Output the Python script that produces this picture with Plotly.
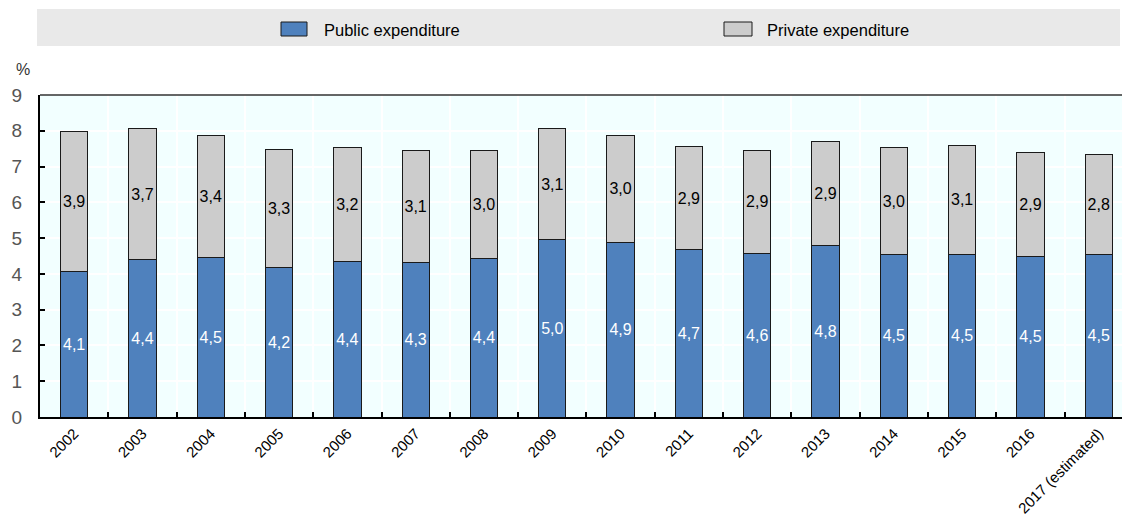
import plotly.graph_objects as go

years = ["2002", "2003", "2004", "2005", "2006", "2007", "2008", "2009",
         "2010", "2011", "2012", "2013", "2014", "2015", "2016", "2017 (estimated)"]
public = [4.08, 4.39, 4.46, 4.19, 4.36, 4.33, 4.43, 4.97,
          4.89, 4.67, 4.58, 4.78, 4.54, 4.54, 4.49, 4.53]
private = [3.89, 3.66, 3.42, 3.30, 3.16, 3.11, 3.01, 3.08,
           2.99, 2.88, 2.88, 2.93, 2.98, 3.06, 2.89, 2.82]
series_names = ["Public expenditure", "Private expenditure"]
y_ticks = [0, 1, 2, 3, 4, 5, 6, 7, 8, 9]

FONT = "Liberation Sans, Arial, sans-serif"
BLUE = "#4F81BD"
GREY = "#CCCCCC"

W, H = 1122, 517
ML, MR, MT, MB = 40, 0, 95, 100
PW, PH = W - ML - MR, H - MT - MB

def px(x):
    return (x - ML) / PW

def py(y):
    return (H - MB - y) / PH

fig = go.Figure()
fig.add_trace(go.Bar(
    x=years, y=public, name=series_names[0],
    marker=dict(color=BLUE, line=dict(color="#1a1a1a", width=1)),
    texttemplate="%{y:.1f}", textposition="inside", insidetextanchor="middle",
    textangle=0, insidetextfont=dict(color="white", size=16, family=FONT),
    showlegend=False, hoverinfo="x+y",
))
fig.add_trace(go.Bar(
    x=years, y=private, name=series_names[1],
    marker=dict(color=GREY, line=dict(color="#1a1a1a", width=1)),
    texttemplate="%{y:.1f}", textposition="inside", insidetextanchor="middle",
    textangle=0, insidetextfont=dict(color="black", size=16, family=FONT),
    showlegend=False, hoverinfo="x+y",
))

shapes = [
    # legend background
    dict(type="rect", xref="paper", yref="paper", x0=px(37), x1=px(1120), y0=py(46), y1=py(9),
         fillcolor="#E9E9E9", line=dict(width=0), layer="below"),
    # legend swatches
    dict(type="rect", xref="paper", yref="paper", x0=px(281), x1=px(307), y0=py(36), y1=py(22),
         fillcolor=BLUE, line=dict(color="#1a1a1a", width=1)),
    dict(type="rect", xref="paper", yref="paper", x0=px(724), x1=px(752), y0=py(36), y1=py(22),
         fillcolor=GREY, line=dict(color="#1a1a1a", width=1)),
    # top border
    dict(type="line", xref="paper", yref="paper", x0=0, x1=1, y0=1, y1=1,
         line=dict(color="#333333", width=1.5)),
]

annotations = [
    dict(text=series_names[0], xref="paper", yref="paper", x=px(322), y=py(30),
         xanchor="left", yanchor="middle", showarrow=False,
         font=dict(family=FONT, size=16.5, color="black")),
    dict(text=series_names[1], xref="paper", yref="paper", x=px(765), y=py(30),
         xanchor="left", yanchor="middle", showarrow=False,
         font=dict(family=FONT, size=16.5, color="black")),
    dict(text="%", xref="paper", yref="paper", x=px(23), y=py(70),
         xanchor="center", yanchor="middle", showarrow=False,
         font=dict(family=FONT, size=16, color="#333333")),
]

fig.update_layout(
    width=W, height=H,
    margin=dict(l=ML, r=MR, t=MT, b=MB, pad=0, autoexpand=False),
    barmode="stack", bargap=0.6,
    paper_bgcolor="white", plot_bgcolor="#F2FFFF",
    separators=", ",
    font=dict(family=FONT, size=16, color="black"),
    shapes=shapes, annotations=annotations,
    uniformtext=dict(minsize=16, mode="show"),
    xaxis=dict(
        type="category", range=[-0.5, 15.34], automargin=False,
        tickson="boundaries", ticks="inside", ticklen=5, tickwidth=1.5, tickcolor="black",
        showgrid=True, gridcolor="white", gridwidth=1.5,
        showline=True, linecolor="black", linewidth=2,
        tickangle=-45, tickfont=dict(family=FONT, size=15, color="black"),
    ),
    yaxis=dict(
        range=[0, 9], tickvals=y_ticks, automargin=False,
        ticks="inside", ticklen=5, tickwidth=1.5, tickcolor="black",
        showgrid=True, gridcolor="white", gridwidth=1.5, zeroline=False,
        showline=True, linecolor="black", linewidth=2,
        tickfont=dict(family=FONT, size=19, color="#555555"),
        ticklabelstandoff=12,
    ),
)

fig.write_html("out.html")
